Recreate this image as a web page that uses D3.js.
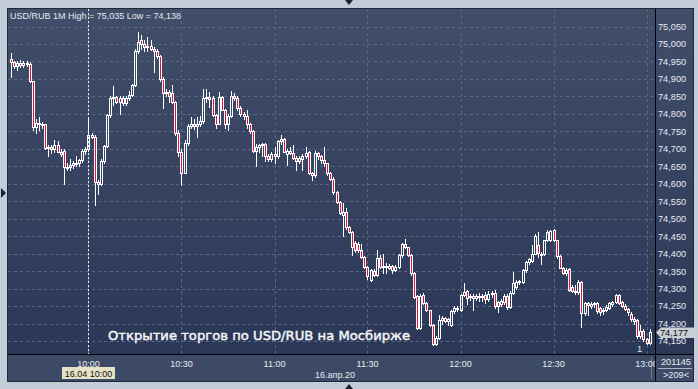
<!DOCTYPE html>
<html><head><meta charset="utf-8">
<script src="https://cdn.jsdelivr.net/npm/d3@7"></script>
<style>html,body{margin:0;padding:0;background:#c3cdd9;overflow:hidden}</style>
</head><body><svg id="c" width="698" height="389"></svg>
<script>
const symbol = "USD/RUB";
const period = "1M";
const startTime = "09:35";
const opens = [
74.958,74.948,74.938,74.945,74.940,74.946,74.943,74.893,74.762,74.775,
74.772,74.770,74.702,74.705,74.700,74.710,74.692,74.695,74.648,74.648,
74.655,74.660,74.658,74.668,74.695,74.700,74.740,74.735,74.605,74.598,
74.665,74.708,74.798,74.845,74.848,74.835,74.845,74.830,74.846,74.855,
74.882,74.980,75.012,75.000,74.990,74.995,74.985,74.980,74.965,74.900,
74.860,74.862,74.860,74.835,74.745,74.692,74.632,74.716,74.765,74.772,
74.765,74.770,74.780,74.845,74.848,74.845,74.798,74.772,74.848,74.812,
74.772,74.795,74.852,74.845,74.818,74.800,74.795,74.770,74.752,74.695,
74.705,74.712,74.714,74.680,74.672,74.685,74.680,74.722,74.728,74.685,
74.695,74.688,74.675,74.665,74.672,74.680,74.690,74.632,74.625,74.688,
74.678,74.668,74.658,74.632,74.615,74.575,74.547,74.512,74.518,74.475,
74.462,74.430,74.428,74.410,74.390,74.362,74.325,74.350,74.340,74.388,
74.362,74.366,74.365,74.364,74.354,74.362,74.395,74.428,74.418,74.395,
74.345,74.280,74.188,74.282,74.258,74.238,74.195,74.142,74.160,74.210,
74.215,74.206,74.195,74.236,74.244,74.238,74.282,74.292,74.275,74.280,
74.272,74.280,74.275,74.282,74.270,74.285,74.288,74.262,74.256,74.262,
74.278,74.248,74.288,74.305,74.318,74.320,74.352,74.375,74.380,74.400,
74.425,74.400,74.398,74.438,74.440,74.468,74.438,74.392,74.360,74.345,
74.355,74.305,74.292,74.290,74.318,74.230,74.258,74.250,74.256,74.258,
74.245,74.235,74.240,74.245,74.255,74.262,74.282,74.262,74.250,74.242,
74.228,74.212,74.210,74.165,74.180,74.155,74.145];
const highs = [
74.975,74.952,74.950,74.955,74.950,74.952,74.948,74.895,74.785,74.790,
74.778,74.772,74.712,74.712,74.725,74.722,74.700,74.700,74.660,74.670,
74.664,74.680,74.672,74.700,74.705,74.785,74.745,74.740,74.612,74.670,
74.710,74.800,74.850,74.880,74.852,74.850,74.850,74.850,74.865,74.885,
74.985,75.035,75.025,75.010,75.020,75.012,74.990,74.985,74.968,74.905,
74.870,74.868,74.882,74.838,74.755,74.700,74.725,74.770,74.790,74.785,
74.790,74.795,74.870,74.870,74.862,74.850,74.800,74.862,74.850,74.815,
74.800,74.865,74.860,74.850,74.822,74.805,74.810,74.775,74.755,74.715,
74.715,74.718,74.716,74.685,74.690,74.705,74.725,74.740,74.730,74.700,
74.705,74.710,74.678,74.680,74.685,74.705,74.695,74.635,74.695,74.692,
74.682,74.705,74.660,74.635,74.620,74.580,74.550,74.545,74.530,74.478,
74.465,74.435,74.432,74.428,74.392,74.365,74.355,74.355,74.410,74.395,
74.400,74.372,74.370,74.368,74.368,74.398,74.430,74.442,74.420,74.398,
74.348,74.282,74.285,74.288,74.262,74.240,74.200,74.165,74.225,74.222,
74.220,74.215,74.240,74.250,74.250,74.285,74.317,74.296,74.285,74.284,
74.285,74.286,74.285,74.290,74.292,74.292,74.296,74.265,74.270,74.285,
74.285,74.292,74.347,74.325,74.325,74.355,74.378,74.388,74.424,74.455,
74.462,74.405,74.440,74.468,74.468,74.470,74.440,74.395,74.362,74.360,
74.358,74.310,74.310,74.325,74.322,74.262,74.262,74.262,74.262,74.262,
74.248,74.245,74.252,74.262,74.265,74.285,74.285,74.265,74.255,74.245,
74.232,74.218,74.212,74.195,74.185,74.158,74.185];
const lows = [
74.905,74.930,74.925,74.935,74.935,74.938,74.890,74.755,74.745,74.755,
74.760,74.700,74.680,74.688,74.690,74.690,74.680,74.600,74.640,74.640,
74.645,74.650,74.650,74.662,74.685,74.695,74.730,74.540,74.570,74.595,
74.660,74.705,74.790,74.825,74.830,74.800,74.826,74.825,74.840,74.850,
74.880,74.975,74.985,74.980,74.980,74.982,74.920,74.960,74.895,74.818,
74.850,74.835,74.830,74.740,74.680,74.595,74.630,74.710,74.760,74.758,
74.735,74.765,74.775,74.835,74.820,74.795,74.760,74.770,74.810,74.760,
74.755,74.790,74.840,74.810,74.795,74.785,74.760,74.745,74.690,74.650,
74.690,74.680,74.665,74.665,74.665,74.660,74.675,74.715,74.690,74.655,
74.685,74.670,74.640,74.660,74.640,74.675,74.628,74.610,74.620,74.670,
74.660,74.650,74.625,74.610,74.570,74.545,74.513,74.450,74.470,74.460,
74.395,74.405,74.405,74.388,74.360,74.328,74.322,74.335,74.335,74.360,
74.345,74.345,74.355,74.345,74.350,74.358,74.390,74.415,74.392,74.340,
74.272,74.185,74.185,74.255,74.235,74.192,74.138,74.138,74.155,74.200,
74.205,74.195,74.192,74.230,74.235,74.235,74.278,74.255,74.268,74.238,
74.268,74.265,74.265,74.258,74.265,74.275,74.245,74.232,74.250,74.255,
74.242,74.245,74.285,74.300,74.312,74.315,74.348,74.370,74.375,74.398,
74.390,74.370,74.395,74.435,74.435,74.435,74.388,74.358,74.342,74.340,
74.292,74.290,74.285,74.285,74.190,74.225,74.225,74.245,74.248,74.230,
74.225,74.228,74.235,74.242,74.250,74.258,74.255,74.248,74.238,74.225,
74.208,74.200,74.160,74.160,74.150,74.140,74.140];
const closes = [
74.948,74.938,74.945,74.940,74.946,74.943,74.893,74.762,74.775,74.772,
74.770,74.702,74.705,74.700,74.710,74.692,74.685,74.648,74.648,74.655,
74.660,74.658,74.668,74.695,74.700,74.740,74.735,74.605,74.598,74.665,
74.708,74.798,74.845,74.848,74.835,74.845,74.830,74.846,74.855,74.882,
74.980,75.005,75.000,74.990,74.995,74.985,74.980,74.965,74.900,74.860,
74.862,74.850,74.835,74.745,74.692,74.632,74.716,74.765,74.772,74.765,
74.770,74.780,74.845,74.848,74.842,74.798,74.772,74.848,74.812,74.772,
74.795,74.852,74.845,74.818,74.800,74.795,74.770,74.752,74.695,74.705,
74.712,74.714,74.680,74.672,74.685,74.680,74.722,74.728,74.692,74.695,
74.688,74.675,74.665,74.675,74.680,74.688,74.632,74.625,74.688,74.678,
74.668,74.658,74.632,74.615,74.575,74.547,74.515,74.518,74.475,74.462,
74.418,74.410,74.410,74.390,74.362,74.335,74.352,74.340,74.388,74.362,
74.366,74.364,74.360,74.354,74.362,74.395,74.428,74.418,74.395,74.345,
74.275,74.188,74.280,74.258,74.238,74.195,74.142,74.160,74.210,74.216,
74.208,74.212,74.236,74.244,74.242,74.282,74.290,74.272,74.278,74.272,
74.280,74.275,74.278,74.270,74.285,74.288,74.250,74.250,74.265,74.278,
74.248,74.288,74.316,74.320,74.322,74.352,74.375,74.385,74.400,74.450,
74.402,74.398,74.438,74.462,74.465,74.438,74.392,74.360,74.345,74.352,
74.295,74.292,74.290,74.318,74.230,74.258,74.252,74.256,74.258,74.235,
74.232,74.240,74.248,74.258,74.262,74.282,74.260,74.250,74.242,74.232,
74.212,74.208,74.165,74.180,74.155,74.145,74.177];
const yTicks = [74.15,74.20,74.25,74.30,74.35,74.40,74.45,74.50,74.55,74.60,74.65,74.70,74.75,74.80,74.85,74.90,74.95,75.00,75.05];
const xTickLabels = ["10:00","10:30","11:00","11:30","12:00","12:30","13:00"];
const lastPrice = 74.177;
const cursorTime = "10:00";
const cursorLabel = "16.04 10:00";
const dateLabel = "16.апр.20";
const overlayText = "Открытие торгов по USD/RUB на Мосбирже";
const volumeLabel = "201145";
const countLabel = ">209<";
const markerLabel = "1";

const svg = d3.select("#c");
const W = 698, H = 389;
const P = {l: 8, t: 9, r: 655, b: 354.5};
const FONT = "Liberation Sans, Arial, sans-serif";
const parseT = d3.timeParse("%H:%M");
const t0 = parseT(startTime);
const data = opens.map((o, i) => ({t: d3.timeMinute.offset(t0, i), o, h: highs[i], l: lows[i], c: closes[i]}));

const x = d3.scaleTime().domain([parseT("09:30"), parseT("13:00")]).range([-4.5, 646.5]);
const y = d3.scaleLinear().domain([74.15, 75.05]).range([341, 26.5]);
const fmt = v => d3.format(".3f")(v).replace(".", ",");

const defs = svg.append("defs");
const grad = defs.append("linearGradient").attr("id", "bg").attr("x1", 0).attr("x2", 0).attr("y1", 0).attr("y2", 1);
grad.append("stop").attr("offset", "0%").attr("stop-color", "#414e69");
grad.append("stop").attr("offset", "100%").attr("stop-color", "#2b3757");
defs.append("clipPath").attr("id", "plotClip").append("rect").attr("x", P.l).attr("y", P.t).attr("width", P.r - P.l).attr("height", P.b - P.t);
defs.append("clipPath").attr("id", "axClip").append("rect").attr("x", P.l).attr("y", P.b).attr("width", P.r - P.l).attr("height", 27);

// frame
svg.append("rect").attr("width", W).attr("height", H).attr("fill", "#c3cdd9");
svg.append("rect").attr("x", 7.5).attr("y", 8.5).attr("width", 686).attr("height", 373).attr("fill", "#3d4a65").attr("stroke", "#1f2738");
svg.append("rect").attr("x", P.l).attr("y", P.t).attr("width", 685).attr("height", P.b - P.t).attr("fill", "url(#bg)");

// grid
const grid = svg.append("g").attr("clip-path", "url(#plotClip)");
grid.selectAll(".hg").data(yTicks).join("line")
  .attr("x1", P.l).attr("x2", P.r).attr("y1", d => Math.round(y(d)) + 0.5).attr("y2", d => Math.round(y(d)) + 0.5)
  .attr("stroke", "#5b6884").attr("stroke-dasharray", "3,3");
grid.selectAll(".vg").data(xTickLabels.map(parseT)).join("line")
  .attr("y1", P.t).attr("y2", P.b).attr("x1", d => Math.round(x(d)) + 0.5).attr("x2", d => Math.round(x(d)) + 0.5)
  .attr("stroke", "#5b6884").attr("stroke-dasharray", "3,3");

// candles
const cg = svg.append("g").attr("clip-path", "url(#plotClip)");
data.forEach(d => {
  const cx = Math.round(x(d.t));
  const yo = y(d.o), yc = y(d.c);
  const top = Math.round(Math.min(yo, yc)), bot = Math.round(Math.max(yo, yc));
  const yh = Math.round(y(d.h)), yl = Math.round(y(d.l));
  if (yh < top) cg.append("line").attr("x1", cx + 0.5).attr("x2", cx + 0.5).attr("y1", yh).attr("y2", top).attr("stroke", "#fff");
  if (yl > bot) cg.append("line").attr("x1", cx + 0.5).attr("x2", cx + 0.5).attr("y1", bot).attr("y2", yl + 1).attr("stroke", "#fff");
  cg.append("rect").attr("x", cx - 0.5).attr("y", top + 0.5).attr("width", 2).attr("height", Math.max(bot - top, 1))
    .attr("fill", d.c < d.o ? "#e5103c" : "none").attr("stroke", "#fff").attr("stroke-width", 1);
});

// cursor line
const cursorX = Math.round(x(parseT(cursorTime))) + 0.5;
svg.append("line").attr("x1", cursorX).attr("x2", cursorX)
  .attr("y1", P.t).attr("y2", P.b).attr("stroke", "#f0f0f0").attr("stroke-dasharray", "2,2");

// axis lines
svg.append("line").attr("x1", P.r + 0.5).attr("x2", P.r + 0.5).attr("y1", P.t).attr("y2", 381).attr("stroke", "#000");
svg.append("line").attr("x1", P.l).attr("x2", 693).attr("y1", P.b).attr("y2", P.b).attr("stroke", "#000");
svg.append("line").attr("x1", 651.5).attr("x2", 651.5).attr("y1", 357).attr("y2", 379).attr("stroke", "#6c7890");

// title
svg.append("text").attr("x", 10).attr("y", 18.5).attr("fill", "#e4e8f0").attr("font-family", FONT).attr("font-size", 9)
  .text(`${symbol} ${period} High = ${fmt(d3.max(highs))} Low = ${fmt(d3.min(lows))}`);

// y axis labels
const ya = svg.append("g").attr("font-family", FONT).attr("font-size", 9.2).attr("fill", "#e6eaf2");
ya.selectAll("text").data(yTicks).join("text").attr("x", 658).attr("y", d => y(d) + 3.4).text(fmt);

// last price label
const ly = Math.round(y(lastPrice)) + 0.5;
svg.append("path").attr("d", `M656,${ly} L661,${ly - 5} L697,${ly - 5} L697,${ly + 5.5} L661,${ly + 5.5} Z`).attr("fill", "#c9cdd4");
svg.append("text").attr("x", 660).attr("y", ly + 3.5).attr("fill", "#111").attr("font-family", FONT).attr("font-size", 9.2).text(fmt(lastPrice));

// x axis labels
const xa = svg.append("g").attr("clip-path", "url(#axClip)").attr("font-family", FONT).attr("font-size", 9).attr("fill", "#e6eaf2");
xa.selectAll("text").data(xTickLabels).join("text").attr("x", d => x(parseT(d))).attr("y", 366.5).attr("text-anchor", "middle").text(d => d);

// cursor time box
const cxp = x(parseT(cursorTime));
svg.append("rect").attr("x", cxp - 26.5).attr("y", 367).attr("width", 53).attr("height", 12).attr("fill", "#e6e2c6");
svg.append("text").attr("x", cxp).attr("y", 377).attr("text-anchor", "middle").attr("fill", "#111").attr("font-family", FONT).attr("font-size", 9).text(cursorLabel);

// date label
svg.append("text").attr("x", 315).attr("y", 378).attr("fill", "#e6eaf2").attr("font-family", FONT).attr("font-size", 9).text(dateLabel);

// right bottom panel
svg.append("text").attr("x", 676).attr("y", 365).attr("text-anchor", "middle").attr("fill", "#e6eaf2").attr("font-family", FONT).attr("font-size", 9.2).text(volumeLabel);
svg.append("line").attr("x1", 658).attr("x2", 692).attr("y1", 368.5).attr("y2", 368.5).attr("stroke", "#aeb6c6");
svg.append("text").attr("x", 676).attr("y", 378).attr("text-anchor", "middle").attr("fill", "#e6eaf2").attr("font-family", FONT).attr("font-size", 9.2).text(countLabel);

// marker
svg.append("text").attr("x", 637).attr("y", 352).attr("fill", "#dfe3ea").attr("font-family", FONT).attr("font-size", 9.2).text(markerLabel);
svg.append("path").attr("d", "M646,351 L650,347 L650,351 Z").attr("fill", "#1e2740");

// overlay text
svg.append("text").attr("x", 108).attr("y", 339.5).attr("fill", "#f6f6f6").attr("stroke", "#f6f6f6").attr("stroke-width", 0.45)
  .attr("font-family", "DejaVu Sans, sans-serif").attr("font-size", 13)
  .attr("textLength", 302).attr("lengthAdjust", "spacingAndGlyphs").text(overlayText);

// nav triangles
svg.append("path").attr("d", "M345,0 L353,0 L349,5 Z").attr("fill", "#1a2030");
svg.append("path").attr("d", "M345,389 L353,389 L349,384 Z").attr("fill", "#1a2030");
svg.append("path").attr("d", "M1,188 L6,193 L1,198 Z").attr("fill", "#1a2030");
</script></body></html>
